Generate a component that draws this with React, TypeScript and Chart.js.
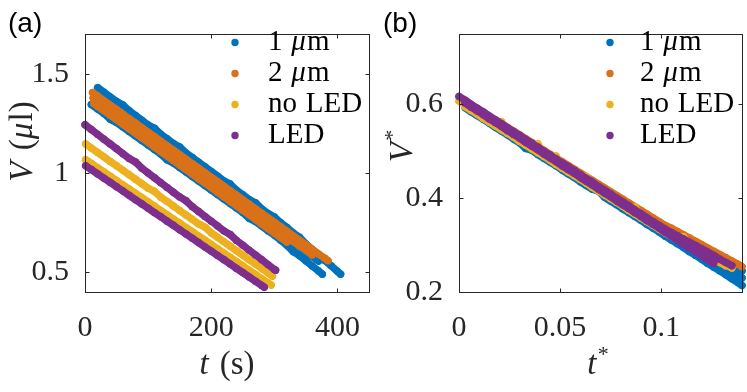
import React, { useEffect, useRef } from "react";
import { Chart, registerables } from "chart.js";

Chart.register(...registerables);

const SERIF = '"Liberation Serif", "Times New Roman", serif';
const SANS = '"Liberation Sans", Arial, sans-serif';
const AXIS_COLOR = "#262626";

// ---------------- series ----------------
const SERIES_LABELS = ["1 μm", "2 μm", "no LED", "LED"];
const SERIES_COLORS = ["#0072BD", "#D97119", "#EDB120", "#7E2F8E"];
const SERIES_ORDER = [4, 3, 2, 1];

// ---------------- ticks ----------------
const A_X_TICKS = [0, 200, 400];
const A_X_TICK_LABELS = ["0", "200", "400"];
const A_Y_TICKS = [0.5, 1, 1.5];
const A_Y_TICK_LABELS = ["0.5", "1", "1.5"];
const B_X_TICKS = [0, 0.05, 0.1];
const B_X_TICK_LABELS = ["0", "0.05", "0.1"];
const B_Y_TICKS = [0.2, 0.4, 0.6];
const B_Y_TICK_LABELS = ["0.2", "0.4", "0.6"];

const A_X_TITLE = "t (s)";
const A_Y_TITLE = "V (μl)";
const B_X_TITLE = "t*";
const B_Y_TITLE = "V*";

// ---------------- panel (a): t (s), V (μl) ----------------
const A_BLUE1_T = [20, 30, 40, 50, 60, 70, 80, 90, 100, 110, 120, 130, 140, 150, 160, 170, 180, 190, 200, 210, 220, 230, 240, 250, 260, 270, 280, 290, 300, 310, 320, 330, 340, 350, 360, 370, 380, 390, 400, 405];
const A_BLUE1_V = [1.430, 1.407, 1.383, 1.360, 1.342, 1.313, 1.289, 1.266, 1.242, 1.225, 1.195, 1.172, 1.148, 1.131, 1.101, 1.078, 1.054, 1.031, 1.007, 0.984, 0.960, 0.944, 0.913, 0.890, 0.866, 0.850, 0.819, 0.796, 0.778, 0.749, 0.725, 0.697, 0.676, 0.642, 0.615, 0.587, 0.559, 0.532, 0.504, 0.490];
const A_BLUE2_T = [10, 20, 30, 40, 50, 60, 70, 80, 90, 100, 110, 120, 130, 140, 150, 160, 170, 180, 190, 200, 210, 220, 230, 240, 250, 260, 270, 280, 290, 300, 310, 320, 330, 340, 350, 360, 370, 376];
const A_BLUE2_V = [1.345, 1.322, 1.300, 1.270, 1.254, 1.232, 1.209, 1.186, 1.163, 1.141, 1.118, 1.095, 1.066, 1.050, 1.027, 1.005, 0.982, 0.959, 0.936, 0.914, 0.891, 0.868, 0.846, 0.823, 0.800, 0.771, 0.755, 0.732, 0.709, 0.687, 0.661, 0.635, 0.603, 0.583, 0.557, 0.531, 0.506, 0.490];
const A_BLUE3_T = [16, 26, 36, 46, 56, 66, 76, 86, 96, 106, 116, 126, 136, 146, 156, 166, 176, 186, 196, 206, 216, 226, 236, 246, 256, 266, 276, 286, 296, 306, 316, 326, 336, 346, 356, 366, 370];
const A_BLUE3_V = [1.370, 1.347, 1.324, 1.301, 1.278, 1.255, 1.232, 1.209, 1.186, 1.163, 1.140, 1.117, 1.094, 1.071, 1.048, 1.025, 1.002, 0.979, 0.956, 0.933, 0.910, 0.887, 0.864, 0.841, 0.818, 0.795, 0.772, 0.749, 0.726, 0.703, 0.680, 0.657, 0.634, 0.611, 0.588, 0.565, 0.556];
const A_ORANGE1_T = [12, 20, 30, 40, 50, 60, 70, 80, 90, 100, 110, 120, 130, 140, 150, 160, 170, 180, 190, 200, 210, 220, 230, 240, 250, 260, 270, 280, 290, 300, 310, 320, 330, 340, 350, 360, 370, 380, 385];
const A_ORANGE1_V = [1.405, 1.387, 1.364, 1.341, 1.319, 1.296, 1.273, 1.251, 1.228, 1.205, 1.183, 1.160, 1.137, 1.114, 1.092, 1.069, 1.046, 1.024, 1.001, 0.978, 0.956, 0.933, 0.910, 0.888, 0.865, 0.842, 0.819, 0.797, 0.774, 0.751, 0.729, 0.706, 0.683, 0.661, 0.638, 0.615, 0.592, 0.570, 0.558];
const A_ORANGE2_T = [14, 20, 30, 40, 50, 60, 70, 80, 90, 100, 110, 120, 130, 140, 150, 160, 170, 180, 190, 200, 210, 220, 230, 240, 250, 260, 270, 280, 290, 300, 310, 320];
const A_ORANGE2_V = [1.350, 1.336, 1.314, 1.291, 1.268, 1.245, 1.222, 1.200, 1.177, 1.154, 1.131, 1.108, 1.086, 1.063, 1.040, 1.017, 0.994, 0.971, 0.949, 0.926, 0.903, 0.880, 0.857, 0.834, 0.812, 0.789, 0.766, 0.743, 0.720, 0.698, 0.675, 0.652];
const A_ORANGE3_T = [13, 20, 30, 40, 50, 60, 70, 80, 90, 100, 110, 120, 130, 140, 150, 160, 170, 180, 190, 200, 210, 220, 230, 240, 250, 260, 270, 280, 290, 300, 310, 320, 330, 340, 350, 360];
const A_ORANGE3_V = [1.378, 1.362, 1.339, 1.316, 1.294, 1.271, 1.248, 1.225, 1.202, 1.180, 1.157, 1.134, 1.111, 1.088, 1.066, 1.043, 1.020, 0.997, 0.974, 0.952, 0.929, 0.906, 0.883, 0.860, 0.838, 0.815, 0.792, 0.769, 0.746, 0.724, 0.701, 0.678, 0.655, 0.632, 0.610, 0.587];
const A_YELLOW1_T = [1, 10, 20, 30, 40, 50, 60, 70, 80, 90, 100, 110, 120, 130, 140, 150, 160, 170, 180, 190, 200, 210, 220, 230, 240, 250, 260, 270, 280, 290, 297];
const A_YELLOW1_V = [1.146, 1.126, 1.103, 1.081, 1.058, 1.036, 1.013, 0.991, 0.968, 0.946, 0.923, 0.907, 0.878, 0.856, 0.833, 0.811, 0.788, 0.766, 0.743, 0.727, 0.698, 0.676, 0.653, 0.631, 0.608, 0.586, 0.563, 0.541, 0.518, 0.496, 0.480];
const A_YELLOW2_T = [1, 10, 20, 30, 40, 50, 60, 70, 80, 90, 100, 110, 120, 130, 140, 150, 160, 170, 180, 190, 200, 210, 220, 230, 240, 250, 260, 270, 280, 290, 295];
const A_YELLOW2_V = [1.067, 1.048, 1.026, 1.005, 0.983, 0.962, 0.940, 0.919, 0.897, 0.876, 0.854, 0.833, 0.811, 0.790, 0.768, 0.747, 0.725, 0.704, 0.682, 0.661, 0.639, 0.618, 0.596, 0.575, 0.553, 0.532, 0.510, 0.489, 0.467, 0.446, 0.435];
const A_PURPLE1_T = [0, 10, 20, 30, 40, 50, 60, 70, 80, 90, 100, 110, 120, 130, 140, 150, 160, 170, 180, 190, 200, 210, 220, 230, 240, 250, 260, 270, 280, 290, 300, 302];
const A_PURPLE1_V = [1.243, 1.219, 1.194, 1.170, 1.146, 1.122, 1.097, 1.073, 1.055, 1.024, 1.000, 0.976, 0.951, 0.927, 0.903, 0.879, 0.860, 0.830, 0.806, 0.781, 0.757, 0.733, 0.708, 0.690, 0.660, 0.636, 0.611, 0.587, 0.563, 0.538, 0.514, 0.510];
const A_PURPLE2_T = [1, 10, 20, 30, 40, 50, 60, 70, 80, 90, 100, 110, 120, 130, 140, 150, 160, 170, 180, 190, 200, 210, 220, 230, 240, 250, 260, 270, 280, 284];
const A_PURPLE2_V = [1.036, 1.017, 0.995, 0.973, 0.952, 0.930, 0.909, 0.887, 0.865, 0.844, 0.822, 0.800, 0.779, 0.757, 0.736, 0.714, 0.692, 0.671, 0.649, 0.627, 0.606, 0.584, 0.563, 0.541, 0.519, 0.498, 0.476, 0.454, 0.433, 0.424];

// ---------------- panel (b): t*, V* ----------------
const B_T = [0, 0.003, 0.006, 0.009, 0.012, 0.015, 0.018, 0.021, 0.024, 0.027, 0.03, 0.033, 0.036, 0.039, 0.042, 0.045, 0.048, 0.051, 0.054, 0.057, 0.06, 0.063, 0.066, 0.069, 0.072, 0.075, 0.078, 0.081, 0.084, 0.087, 0.09, 0.093, 0.096, 0.099, 0.102, 0.105, 0.108, 0.111, 0.114, 0.117, 0.12, 0.123, 0.126, 0.129, 0.132, 0.135, 0.138, 0.14];
const B_BLUE1_V = [null, 0.593, 0.584, 0.576, 0.568, 0.560, 0.551, 0.543, 0.535, 0.526, 0.518, 0.506, 0.502, 0.493, 0.485, 0.477, 0.469, 0.460, 0.452, 0.444, 0.435, 0.427, 0.419, 0.415, 0.402, 0.394, 0.386, 0.377, 0.369, 0.361, 0.353, 0.344, 0.336, 0.328, 0.319, 0.311, 0.303, 0.295, 0.286, 0.278, 0.270, 0.261, 0.253, 0.245, 0.237, 0.228, 0.220, 0.214];
const B_BLUE2_V = [null, null, 0.588, 0.579, 0.571, 0.563, 0.555, 0.546, 0.538, 0.530, 0.522, 0.514, 0.505, 0.497, 0.489, 0.481, 0.472, 0.464, 0.456, 0.448, 0.440, 0.431, 0.423, 0.415, 0.407, 0.399, 0.390, 0.382, 0.374, 0.366, 0.357, 0.349, 0.341, 0.333, 0.325, 0.316, 0.309, 0.302, 0.294, 0.287, 0.280, 0.272, 0.265, 0.257, 0.250, 0.243, 0.235, 0.230];
const B_BLUE3_V = [null, null, null, 0.584, 0.575, 0.567, 0.559, 0.551, 0.543, 0.535, 0.526, 0.518, 0.510, 0.502, 0.494, 0.486, 0.477, 0.469, 0.461, 0.453, 0.445, 0.437, 0.428, 0.420, 0.412, 0.404, 0.396, 0.388, 0.380, 0.371, 0.363, 0.355, 0.347, 0.340, 0.333, 0.326, 0.319, 0.312, 0.306, 0.299, 0.292, 0.285, 0.278, 0.271, 0.264, 0.257, 0.250, 0.245];
const B_ORANGE1_V = [null, 0.607, 0.599, 0.591, 0.583, 0.575, 0.567, 0.559, 0.551, 0.543, 0.535, 0.527, 0.519, 0.510, 0.502, 0.494, 0.486, 0.478, 0.470, 0.462, 0.454, 0.446, 0.438, 0.430, 0.422, 0.414, 0.406, 0.398, 0.390, 0.382, 0.374, 0.366, 0.358, 0.350, 0.342, 0.336, 0.329, 0.322, 0.315, 0.308, 0.301, 0.294, 0.287, 0.280, 0.273, 0.266, 0.259, 0.254];
const B_ORANGE2_V = [null, null, 0.593, 0.585, 0.576, 0.568, 0.560, 0.552, 0.544, 0.536, 0.527, 0.519, 0.511, 0.503, 0.495, 0.487, 0.478, 0.470, 0.462, 0.454, 0.446, 0.438, 0.429, 0.421, 0.413, 0.405, 0.397, 0.389, 0.381, 0.372, 0.364, 0.356, 0.348, 0.340, 0.332, 0.325, 0.318, 0.310, 0.303, 0.296, 0.289, 0.282, 0.274, 0.267];
const B_YELLOW1_V = [0.607, 0.599, 0.591, 0.583, 0.574, 0.566, 0.558, 0.563, 0.542, 0.534, 0.525, 0.517, 0.509, 0.516, 0.493, 0.485, 0.490, 0.468, 0.460, 0.452, 0.444, 0.447, 0.427, 0.419, 0.411, 0.403, 0.395, 0.387, 0.378, 0.381, 0.362, 0.354, 0.346, 0.338, 0.330, 0.323, 0.316, 0.318, 0.301, 0.294, 0.287, 0.280, 0.272, 0.265, 0.258, 0.251];
const B_YELLOW2_V = [null, 0.595, 0.587, 0.579, 0.570, 0.562, 0.554, 0.546, 0.538, 0.530, 0.521, 0.513, 0.505, 0.497, 0.489, 0.481, 0.472, 0.464, 0.456, 0.448, 0.440, 0.432, 0.423, 0.415, 0.407, 0.399, 0.391, 0.383, 0.374, 0.366, 0.358, 0.350, 0.342, 0.334, 0.326, 0.319, 0.312, 0.305, 0.298, 0.291, 0.284, 0.277, 0.270, 0.263, 0.256];
const B_PURPLE1_V = [0.617, 0.609, 0.600, 0.592, 0.584, 0.575, 0.567, 0.559, 0.550, 0.542, 0.534, 0.525, 0.517, 0.509, 0.500, 0.492, 0.484, 0.475, 0.467, 0.459, 0.450, 0.442, 0.434, 0.425, 0.417, 0.409, 0.400, 0.392, 0.384, 0.375, 0.367, 0.358, 0.350, 0.342, 0.334, 0.327, 0.320, 0.313, 0.306, 0.299, 0.292, 0.285, 0.278, 0.270, 0.263, 0.256];
const B_PURPLE2_V = [null, 0.603, 0.594, 0.586, 0.578, 0.569, 0.561, 0.553, 0.544, 0.536, 0.528, 0.519, 0.511, 0.503, 0.494, 0.486, 0.478, 0.469, 0.461, 0.453, 0.444, 0.436, 0.428, 0.419, 0.411, 0.403, 0.394, 0.386, 0.378, 0.369, 0.361, 0.352, 0.344, 0.336, 0.327, 0.319, 0.311, 0.302, 0.294, 0.286, 0.277, 0.269, 0.261];

type Run = { series: number; t: number[]; v: (number | null)[] };

const A_RUNS: Run[] = [
  { series: 0, t: A_BLUE1_T, v: A_BLUE1_V },
  { series: 0, t: A_BLUE2_T, v: A_BLUE2_V },
  { series: 0, t: A_BLUE3_T, v: A_BLUE3_V },
  { series: 1, t: A_ORANGE1_T, v: A_ORANGE1_V },
  { series: 1, t: A_ORANGE2_T, v: A_ORANGE2_V },
  { series: 1, t: A_ORANGE3_T, v: A_ORANGE3_V },
  { series: 2, t: A_YELLOW1_T, v: A_YELLOW1_V },
  { series: 2, t: A_YELLOW2_T, v: A_YELLOW2_V },
  { series: 3, t: A_PURPLE1_T, v: A_PURPLE1_V },
  { series: 3, t: A_PURPLE2_T, v: A_PURPLE2_V },
];

const B_RUNS: Run[] = [
  { series: 0, t: B_T, v: B_BLUE1_V },
  { series: 0, t: B_T, v: B_BLUE2_V },
  { series: 0, t: B_T, v: B_BLUE3_V },
  { series: 1, t: B_T, v: B_ORANGE1_V },
  { series: 1, t: B_T, v: B_ORANGE2_V },
  { series: 2, t: B_T, v: B_YELLOW1_V },
  { series: 2, t: B_T, v: B_YELLOW2_V },
  { series: 3, t: B_T, v: B_PURPLE1_V },
  { series: 3, t: B_T, v: B_PURPLE2_V },
];

const PANELS = [
  {
    key: "a", left: 0, width: 380, padRight: 11, yAxisWidth: 85,
    xMin: 0, xMax: 450, yMin: 0.4, yMax: 1.7,
    xTicks: A_X_TICKS, xTickLabels: A_X_TICK_LABELS, yTicks: A_Y_TICKS, yTickLabels: A_Y_TICK_LABELS,
    runs: A_RUNS, xTitle: A_X_TITLE, yTitle: A_Y_TITLE, panelLabel: "(a)",
    xTitleX: 227, yTitleY: 141.5, legendDotX: 235, legendTextX: 268, panelLabelX: 8,
  },
  {
    key: "b", left: 380, width: 367, padRight: 5, yAxisWidth: 79,
    xMin: 0, xMax: 0.14, yMin: 0.2, yMax: 0.75,
    xTicks: B_X_TICKS, xTickLabels: B_X_TICK_LABELS, yTicks: B_Y_TICKS, yTickLabels: B_Y_TICK_LABELS,
    runs: B_RUNS, xTitle: B_X_TITLE, yTitle: B_Y_TITLE, panelLabel: "(b)",
    xTitleX: 218, yTitleY: 146, legendDotX: 230, legendTextX: 260, panelLabelX: 3,
  },
];

const CANVAS_H = 392;
const PLOT_TOP = 19;
const PLOT_BOTTOM = 292;
const LEGEND_ROWS = [42.5, 73.5, 104.5, 135.5];
const DOT_R = 3.7;

type Part = { text: string; kind: "roman" | "italic" | "sup" | "space" };

function splitRich(s: string): Part[] {
  const parts: Part[] = [];
  for (const ch of s) {
    let kind: Part["kind"] = "roman";
    if (ch === " ") kind = "space";
    else if (ch === "t" || ch === "V" || ch === "μ") kind = "italic";
    else if (ch === "*") kind = "sup";
    const last = parts[parts.length - 1];
    if (last && last.kind === kind && kind !== "space") last.text += ch;
    else parts.push({ text: ch, kind });
  }
  return parts;
}

function drawRich(ctx: CanvasRenderingContext2D, s: string, x: number, y: number, size: number, color: string, align: "left" | "center") {
  const parts = splitRich(s);
  const fontOf = (p: Part) =>
    p.kind === "italic" ? `italic ${size}px ${SERIF}` : p.kind === "sup" ? `${Math.round(size * 0.68)}px ${SERIF}` : `${size}px ${SERIF}`;
  const widths = parts.map((p) => {
    if (p.kind === "space") return size * 0.3;
    ctx.font = fontOf(p);
    return ctx.measureText(p.text).width + (p.kind === "italic" ? size * 0.04 : 0);
  });
  const total = widths.reduce((a, b) => a + b, 0);
  let cx = align === "center" ? x - total / 2 : x;
  ctx.fillStyle = color;
  ctx.textAlign = "left";
  parts.forEach((p, i) => {
    if (p.kind !== "space") {
      ctx.font = fontOf(p);
      ctx.fillText(p.text, cx, p.kind === "sup" ? y - size * 0.38 : y);
    }
    cx += widths[i];
  });
}

function makeDecor(cfg: any) {
  return {
    id: "decor-" + cfg.key,
    afterDraw(chart: any) {
      const { ctx, chartArea: a, scales } = chart;
      ctx.save();
      const L = Math.round(a.left) + 0.5;
      const R = Math.round(a.right) + 0.5;
      const T = Math.round(a.top) + 0.5;
      const B = Math.round(a.bottom) + 0.5;
      ctx.strokeStyle = AXIS_COLOR;
      ctx.lineWidth = 1;
      ctx.strokeRect(L, T, R - L, B - T);
      const tl = 4;
      ctx.beginPath();
      cfg.xTicks.forEach((v: number) => {
        const px = Math.round(scales.x.getPixelForValue(v)) + 0.5;
        if (px <= L + 1 || px >= R - 1) return;
        ctx.moveTo(px, B); ctx.lineTo(px, B - tl);
        ctx.moveTo(px, T); ctx.lineTo(px, T + tl);
      });
      cfg.yTicks.forEach((v: number) => {
        const py = Math.round(scales.y.getPixelForValue(v)) + 0.5;
        if (py <= T + 1 || py >= B - 1) return;
        ctx.moveTo(L, py); ctx.lineTo(L + tl, py);
        ctx.moveTo(R, py); ctx.lineTo(R - tl, py);
      });
      ctx.stroke();

      ctx.textBaseline = "alphabetic";
      drawRich(ctx, cfg.xTitle, cfg.xTitleX, 374, 33, AXIS_COLOR, "center");
      ctx.save();
      ctx.translate(32, cfg.yTitleY);
      ctx.rotate(-Math.PI / 2);
      drawRich(ctx, cfg.yTitle, 0, 0, 33, AXIS_COLOR, "center");
      ctx.restore();

      SERIES_LABELS.forEach((lab, i) => {
        const y = LEGEND_ROWS[i];
        ctx.fillStyle = SERIES_COLORS[i];
        ctx.beginPath();
        ctx.arc(cfg.legendDotX, y, DOT_R, 0, Math.PI * 2);
        ctx.fill();
        ctx.textBaseline = "middle";
        drawRich(ctx, lab, cfg.legendTextX, y, 29, "#000000", "left");
      });

      ctx.textBaseline = "alphabetic";
      ctx.font = `28px ${SANS}`;
      ctx.fillStyle = "#000000";
      ctx.textAlign = "left";
      ctx.fillText(cfg.panelLabel, cfg.panelLabelX, 31.5);
      ctx.restore();
    },
  };
}

function toDatasets(runs: Run[]) {
  return runs.map((r) => {
    const pts: { x: number; y: number }[] = [];
    r.v.forEach((y, i) => {
      if (y !== null && y !== undefined) pts.push({ x: r.t[i], y });
    });
    const c = SERIES_COLORS[r.series];
    return {
      label: SERIES_LABELS[r.series],
      data: pts,
      backgroundColor: c,
      borderColor: c,
      borderWidth: DOT_R * 2,
      borderCapStyle: "round",
      borderJoinStyle: "round",
      pointBorderWidth: 0,
      pointRadius: DOT_R,
      pointHoverRadius: DOT_R,
      showLine: true,
      tension: 0,
      order: SERIES_ORDER[r.series],
      clip: false as const,
    };
  });
}

function Panel({ cfg }: { cfg: any }) {
  const ref = useRef<HTMLCanvasElement | null>(null);
  useEffect(() => {
    if (!ref.current) return;
    const tickFont = { family: SERIF, size: 30 };
    const chart = new Chart(ref.current, {
      type: "scatter",
      data: { datasets: toDatasets(cfg.runs) as any },
      options: {
        responsive: false,
        animation: false,
        events: [],
        devicePixelRatio: 1,
        layout: { padding: { top: PLOT_TOP, right: cfg.padRight, left: 0, bottom: 0 } },
        plugins: { legend: { display: false }, tooltip: { enabled: false } },
        scales: {
          x: {
            type: "linear",
            min: cfg.xMin,
            max: cfg.xMax,
            grid: { display: false, drawTicks: false },
            border: { display: false },
            afterBuildTicks: (s: any) => { s.ticks = cfg.xTicks.map((v: number) => ({ value: v })); },
            afterFit: (s: any) => { s.height = CANVAS_H - PLOT_BOTTOM; },
            ticks: {
              autoSkip: false,
              maxRotation: 0,
              padding: 18,
              color: AXIS_COLOR,
              font: tickFont,
              callback: (v: any) => {
                const i = cfg.xTicks.indexOf(v);
                return i >= 0 ? cfg.xTickLabels[i] : "";
              },
            },
          },
          y: {
            type: "linear",
            min: cfg.yMin,
            max: cfg.yMax,
            grid: { display: false, drawTicks: false },
            border: { display: false },
            afterBuildTicks: (s: any) => { s.ticks = cfg.yTicks.map((v: number) => ({ value: v })); },
            afterFit: (s: any) => { s.width = cfg.yAxisWidth; },
            ticks: {
              autoSkip: false,
              padding: 16,
              color: AXIS_COLOR,
              font: tickFont,
              callback: (v: any) => {
                const i = cfg.yTicks.indexOf(v);
                return i >= 0 ? cfg.yTickLabels[i] : "";
              },
            },
          },
        },
      } as any,
      plugins: [makeDecor(cfg)],
    });
    return () => chart.destroy();
  }, [cfg]);
  return (
    <canvas
      ref={ref}
      width={cfg.width}
      height={CANVAS_H}
      style={{ position: "absolute", left: cfg.left, top: 0, width: cfg.width, height: CANVAS_H }}
    />
  );
}

export default function App() {
  return (
    <div style={{ position: "absolute", left: 0, top: 0, width: 747, height: 392, background: "#ffffff" }}>
      {PANELS.map((p) => (
        <Panel key={p.key} cfg={p} />
      ))}
    </div>
  );
}
